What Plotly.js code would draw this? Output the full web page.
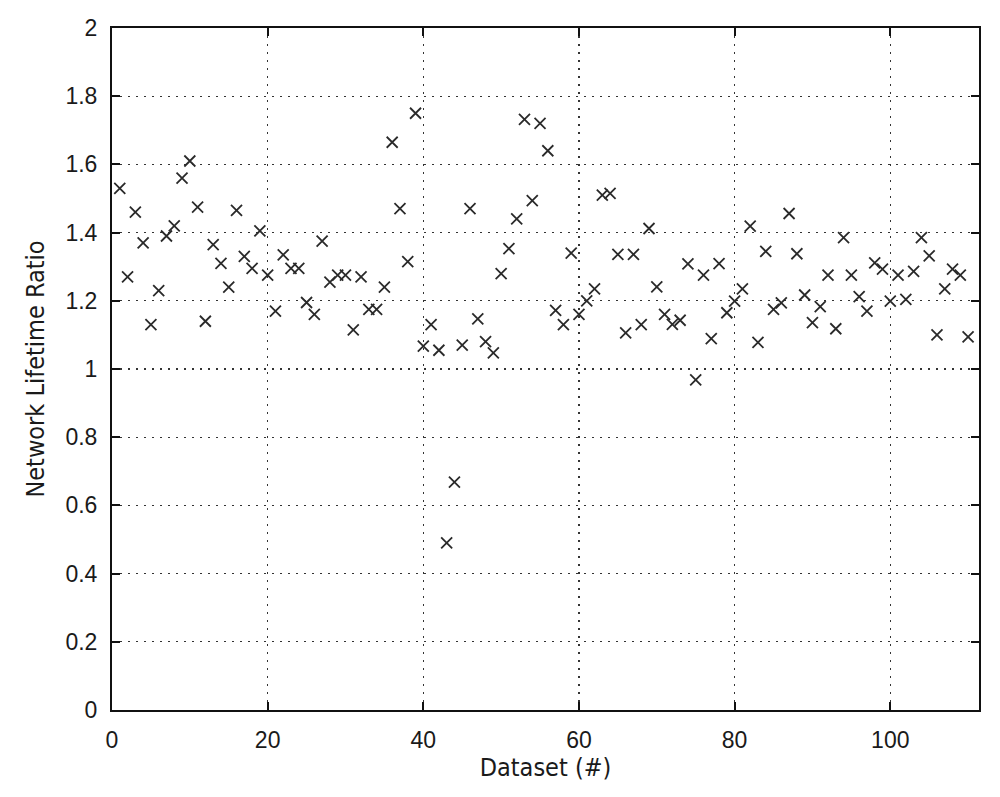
<!DOCTYPE html>
<html>
<head>
<meta charset="utf-8">
<script src="https://cdn.plot.ly/plotly-3.0.1.min.js"></script>
<style>
  html, body { margin: 0; padding: 0; background: #fff; }
  #myPlot { width: 1000px; height: 797px; }
</style>
</head>
<body>
<div id="myPlot"></div>
<script>
// dataset number (x) and network lifetime ratio (y)
var datasetIds = [
  1, 2, 3, 4, 5, 6, 7, 8, 9, 10,
  11, 12, 13, 14, 15, 16, 17, 18, 19, 20,
  21, 22, 23, 24, 25, 26, 27, 28, 29, 30,
  31, 32, 33, 34, 35, 36, 37, 38, 39, 40,
  41, 42, 43, 44, 45, 46, 47, 48, 49, 50,
  51, 52, 53, 54, 55, 56, 57, 58, 59, 60,
  61, 62, 63, 64, 65, 66, 67, 68, 69, 70,
  71, 72, 73, 74, 75, 76, 77, 78, 79, 80,
  81, 82, 83, 84, 85, 86, 87, 88, 89, 90,
  91, 92, 93, 94, 95, 96, 97, 98, 99, 100,
  101, 102, 103, 104, 105, 106, 107, 108, 109, 110
];

var lifetimeRatio = [
  1.53, 1.27, 1.46, 1.37, 1.13, 1.23, 1.39, 1.42, 1.56, 1.61,
  1.475, 1.14, 1.365, 1.31, 1.24, 1.465, 1.33, 1.295, 1.405, 1.275,
  1.17, 1.335, 1.295, 1.295, 1.195, 1.16, 1.375, 1.255, 1.275, 1.275,
  1.115, 1.27, 1.175, 1.175, 1.24, 1.665, 1.47, 1.315, 1.75, 1.067,
  1.13, 1.055, 0.49, 0.668, 1.07, 1.47, 1.147, 1.08, 1.047, 1.28,
  1.353, 1.44, 1.732, 1.494, 1.72, 1.64, 1.172, 1.13, 1.34, 1.16,
  1.2, 1.235, 1.51, 1.515, 1.336, 1.106, 1.336, 1.13, 1.412, 1.241,
  1.16, 1.131, 1.143, 1.308, 0.968, 1.275, 1.089, 1.309, 1.165, 1.199,
  1.235, 1.419, 1.078, 1.345, 1.175, 1.194, 1.456, 1.338, 1.217, 1.136,
  1.183, 1.275, 1.118, 1.385, 1.275, 1.212, 1.17, 1.311, 1.293, 1.199,
  1.275, 1.204, 1.286, 1.385, 1.332, 1.1, 1.235, 1.293, 1.275, 1.094
];

var xTicks = [0, 20, 40, 60, 80, 100];
var yTicks = [0, 0.2, 0.4, 0.6, 0.8, 1, 1.2, 1.4, 1.6, 1.8, 2];

var tickFont = {family: "Liberation Sans, Arial, sans-serif", size: 23, color: "#1a1a1a"};
var labelFont = {family: "Liberation Sans Narrow, DejaVu Sans Condensed, Arial, sans-serif", size: 25, color: "#1a1a1a"};

var data = [{
  x: datasetIds,
  y: lifetimeRatio,
  type: "scatter",
  mode: "markers",
  marker: {
    symbol: "x-thin-open",
    size: 11,
    color: "#2a2a2a",
    line: {color: "#2a2a2a", width: 1.8}
  },
  hoverinfo: "x+y"
}];

var axisCommon = {
  showline: true,
  linecolor: "#111",
  linewidth: 2,
  mirror: "ticks",
  ticks: "inside",
  ticklen: 8,
  tickwidth: 2,
  tickcolor: "#111",
  showgrid: true,
  gridcolor: "#333",
  gridwidth: 1.4,
  griddash: "2px,6px",
  zeroline: false,
  tickfont: tickFont,
  automargin: false
};

var layout = {
  width: 1000,
  height: 797,
  margin: {l: 112, r: 21, t: 28, b: 87},
  paper_bgcolor: "#fff",
  plot_bgcolor: "#fff",
  showlegend: false,
  xaxis: Object.assign({}, axisCommon, {
    range: [0, 111.4],
    tickmode: "array",
    tickvals: xTicks,
    ticklabelstandoff: 8,
    title: {text: "Dataset (#)", font: labelFont, standoff: 4}
  }),
  yaxis: Object.assign({}, axisCommon, {
    range: [0, 2],
    tickmode: "array",
    tickvals: yTicks,
    ticktext: yTicks.map(String),
    ticklabelstandoff: 8,
    title: {text: "Network Lifetime Ratio", font: labelFont, standoff: 14}
  })
};

Plotly.newPlot("myPlot", data, layout, {displayModeBar: false, staticPlot: true});
</script>
</body>
</html>
